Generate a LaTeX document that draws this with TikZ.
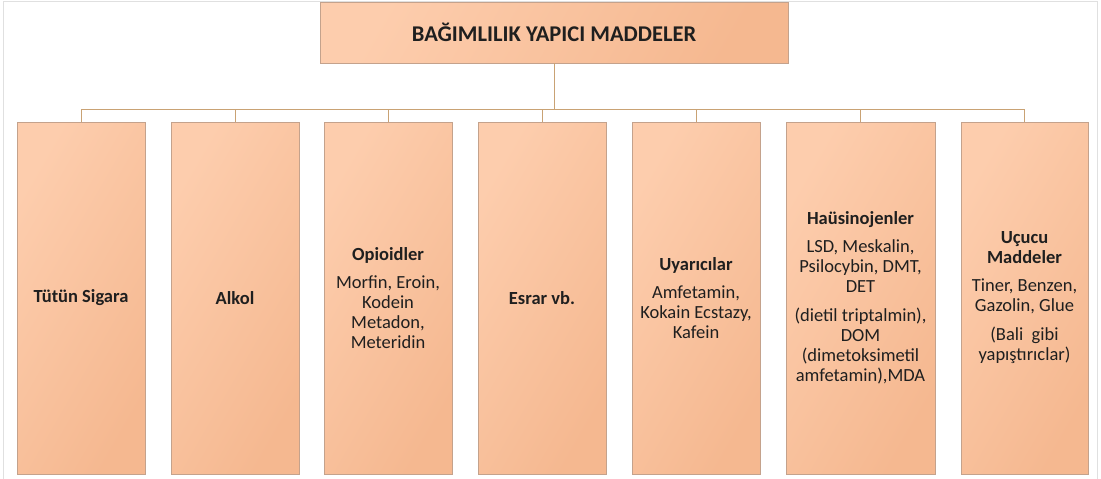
\documentclass[tikz,border=0pt]{standalone}
\usepackage{fontspec}
\setmainfont{Carlito}
\begin{document}
\begin{tikzpicture}[x=1pt,y=-1pt,
  box/.style={draw=boxline, line width=0.9pt, shading=axis, left color=peachA, right color=peachB, shading angle=60, align=center, inner sep=2pt, font=\fontsize{18.5}{20}\selectfont, text=black!88},
  conn/.style={draw=connline, line width=1pt}
]
\definecolor{peachA}{HTML}{FDCDAD}
\definecolor{peachB}{HTML}{F5B890}
\definecolor{boxline}{HTML}{C4A28C}
\definecolor{connline}{HTML}{C9A274}
\useasboundingbox (0,0) rectangle (1101,479);
\fill[white] (0,0) rectangle (1101,479);
\draw[black!12, line width=0.8pt] (3,1) -- (1097,1);
\draw[black!12, line width=0.8pt] (3,1) -- (3,479);
\draw[black!12, line width=0.8pt] (1097,1) -- (1097,479);

\node[box, minimum width=468pt, minimum height=61pt, font=\fontsize{22.5}{26}\selectfont\bfseries] (top) at (554,32.5) {BAĞIMLILIK YAPICI MADDELER};

\node[box, minimum width=128pt, minimum height=352pt] (b1) at (81,298) {\textbf{Tütün Sigara}};
\node[box, minimum width=128pt, minimum height=352pt] (b2) at (235,298) {\textbf{Alkol}};
\node[box, minimum width=128pt, minimum height=352pt] (b3) at (388,298) {\textbf{Opioidler}\\[8pt]Morfin, Eroin,\\Kodein\\Metadon,\\Meteridin};
\node[box, minimum width=128pt, minimum height=352pt] (b4) at (542,298) {\textbf{Esrar vb.}};
\node[box, minimum width=128pt, minimum height=352pt] (b5) at (696,298) {\textbf{Uyarıcılar}\\[8pt]Amfetamin,\\Kokain Ecstazy,\\Kafein};
\node[box, minimum width=149pt, minimum height=352pt] (b6) at (860.5,298) {\textbf{Haüsinojenler}\\[8pt]LSD, Meskalin,\\Psilocybin, DMT,\\DET\\[9pt](dietil triptalmin),\\DOM\\(dimetoksimetil\\amfetamin),MDA};
\node[box, minimum width=127pt, minimum height=352pt] (b7) at (1024.5,298) {\textbf{Uçucu}\\\textbf{Maddeler}\\[8pt]Tiner, Benzen,\\Gazolin, Glue\\[9pt](Bali~ gibi\\yapıştırıclar)};

\coordinate (bus) at (554,109);
\draw[conn] (top.south) -- (bus);
\foreach \b in {b1,b2,b3,b4,b5,b6,b7} {
  \draw[conn] (bus) -| (\b.north);
}
\end{tikzpicture}
\end{document}
